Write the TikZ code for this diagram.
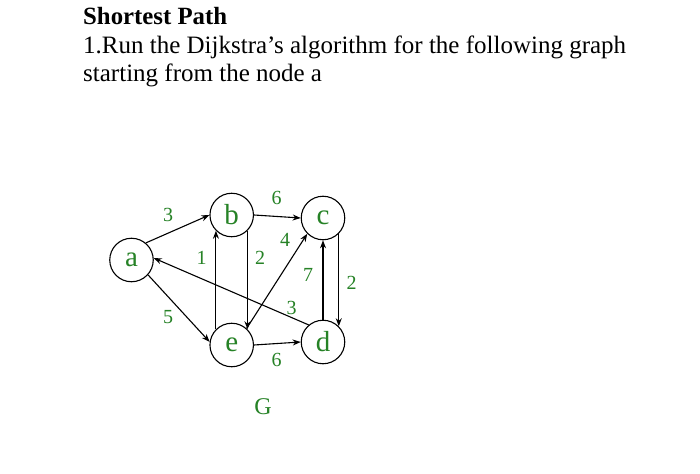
\documentclass[tikz,border=0pt]{standalone}
\usepackage{fontspec}
\setmainfont{Liberation Serif}
\usetikzlibrary{arrows.meta}
\definecolor{lblgreen}{RGB}{38,130,38}
\begin{document}
\begin{tikzpicture}[x=1pt,y=-1pt,
  vert/.style={circle,draw,line width=1.1pt,minimum size=43.5pt,inner sep=0pt,text=lblgreen,font=\fontsize{29}{29}\selectfont},
  wlbl/.style={text=lblgreen,font=\fontsize{20}{20}\selectfont,inner sep=0pt},
  edge/.style={line width=1.1pt,-{Stealth[length=8pt,width=6pt]}},
  txt/.style={anchor=base west,inner sep=0pt,font=\fontsize{25}{25}\selectfont}]
\useasboundingbox (0,0) rectangle (700,473);
\fill[white] (0,0) rectangle (700,473);
\node[txt,font=\fontsize{24.8}{25}\selectfont\bfseries] (t1) at (83,25) {Shortest Path};
\node[txt] (t2) at (83,54) {1.Run the Dijkstra’s algorithm for the following graph};
\node[txt] (t3) at (83,82) {starting from the node a};
\node[vert] (a) at (131.5,260) {a};
\node[vert] (b) at (231.7,215) {b};
\node[vert] (c) at (323,218) {c};
\node[vert] (e) at (231.7,345) {e};
\node[vert] (d) at (323,342) {d};
\draw[edge] (a.50) -- (b.180);
\draw[edge] (a.-42) -- (e.172);
\draw[edge] (b.east) -- (c.west);
\draw[edge] (b.-45) -- (e.45);
\draw[edge] (e.135) -- (b.-135);
\draw[edge] (e.48) -- (c.-135);
\draw[edge] (c.-45) -- (d.45);
\draw[edge] (d.north) -- (c.south);
\draw[edge] (d.130) -- (a.5);
\draw[edge] (e.east) -- (d.west);
\node[wlbl] (l1) at (168,215) {3};
\node[wlbl] (l2) at (276.7,198) {6};
\node[wlbl] (l3) at (201.7,258) {1};
\node[wlbl] (l4) at (260,258) {2};
\node[wlbl] (l5) at (285,240) {4};
\node[wlbl] (l6) at (308,275) {7};
\node[wlbl] (l7) at (351.7,283) {2};
\node[wlbl] (l8) at (291.7,308) {3};
\node[wlbl] (l9) at (168,316.7) {5};
\node[wlbl] (l10) at (276.7,360) {6};
\node[text=lblgreen,font=\fontsize{24}{24}\selectfont,inner sep=0pt] (g) at (263,407) {G};
\end{tikzpicture}
\end{document}
